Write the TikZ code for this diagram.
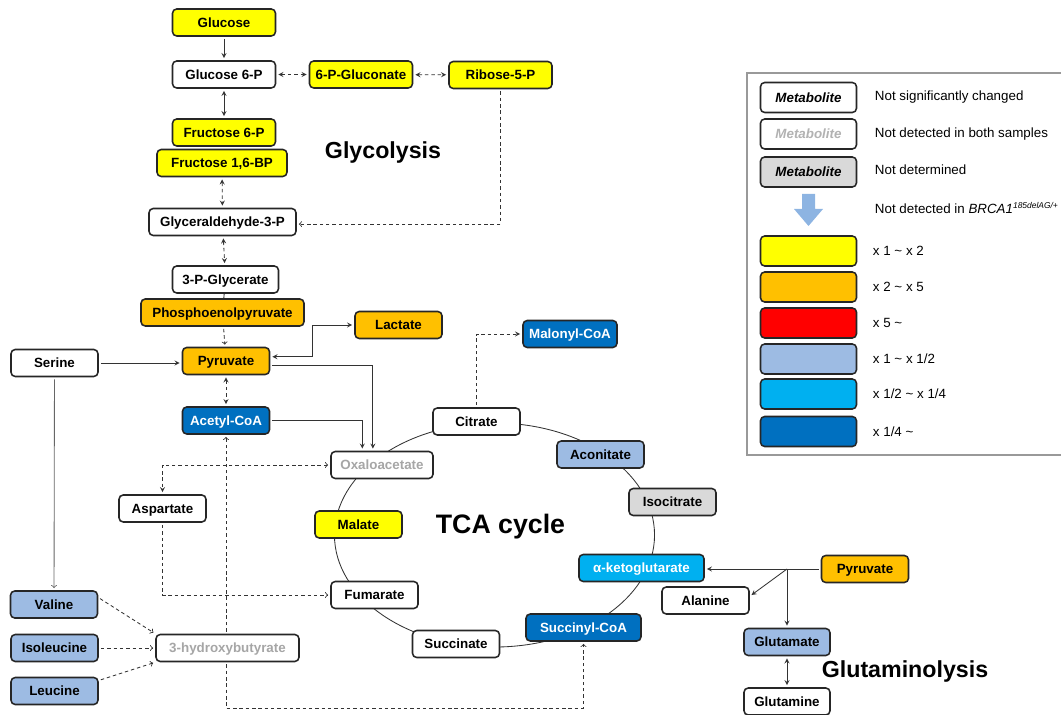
\documentclass[tikz,border=0pt]{standalone}
\usepackage{fontspec}
\setmainfont{Liberation Sans}
\definecolor{cyel}{RGB}{255,255,0}
\definecolor{corg}{RGB}{255,192,0}
\definecolor{cred}{RGB}{255,0,0}
\definecolor{clbl}{RGB}{157,187,227}
\definecolor{ccyn}{RGB}{0,176,240}
\definecolor{cdbl}{RGB}{0,112,192}
\definecolor{cgry}{RGB}{217,217,217}
\definecolor{ctxg}{RGB}{166,166,166}
\definecolor{carr}{RGB}{141,180,226}

\begin{document}
\begin{tikzpicture}[x=0.025cm,y=-0.025cm,>=stealth,
 met/.style={draw=black!85,line width=1.1pt,rounded corners=3pt,fill=white,minimum height=0.675cm,inner sep=0pt,text height=6.9pt,text depth=0pt,font=\bfseries\fontsize{9.5}{11}\selectfont},
 wd/.style={minimum width=#1*0.025cm},
 yel/.style={met,fill=cyel},
 org/.style={met,fill=corg},
 lbl/.style={met,fill=clbl},
 dbl/.style={met,fill=cdbl,text=white},
 nd/.style={met,text=ctxg},
 sol/.style={line width=0.6pt,draw=black!80,shorten >=1.5pt,shorten <=1.5pt},
 dsh/.style={sol,dash pattern=on 2.5pt off 2pt},
 ttl/.style={font=\bfseries\fontsize{16.5}{18}\selectfont},
 key/.style={met,minimum width=2.4cm,minimum height=0.75cm},
 ktx/.style={anchor=west,font=\fontsize{9.5}{11}\selectfont}]
 \useasboundingbox (0,0) rectangle (1061,715); %全体の大きさ
 \draw[line width=0.6pt,black!80] (494.5,535) ellipse [x radius=4cm,y radius=2.8cm]; %TCA回路
 % 解糖系
 \node[yel,wd=103] (gl) at (224,22.5) {Glucose};
 \node[met,wd=103] (g6p) at (224,74.5) {Glucose 6-P};
 \node[yel,wd=103] (pgl) at (361,74.5) {6-P-Gluconate};
 \node[yel,wd=103] (r5p) at (500.5,75) {Ribose-5-P};
 \node[yel,wd=103] (f6p) at (224,132.5) {Fructose 6-P};
 \node[yel,wd=130] (fbp) at (222,163) {Fructose 1,6-BP};
 \node[met,wd=147] (gap) at (222.5,222) {Glyceraldehyde-3-P};
 \node[met,wd=106] (pg3) at (225.5,279.5) {3-P-Glycerate};
 \node[org,wd=163] (pep) at (222.5,312.5) {Phosphoenolpyruvate};
 \node[org,wd=87] (lac) at (398.5,325) {Lactate};
 \node[org,wd=87] (pyr) at (226,361) {Pyruvate};
 \node[met,wd=87] (ser) at (54.5,363) {Serine};
 \node[dbl,wd=87] (aca) at (226,420.5) {Acetyl-CoA};
 \node[met,wd=87] (asp) at (162.5,508.5) {Aspartate};
 % アミノ酸
 \node[lbl,wd=87] (val) at (54,604.5) {Valine};
 \node[lbl,wd=87] (ile) at (54.5,648) {Isoleucine};
 \node[lbl,wd=87] (leu) at (54.5,691) {Leucine};
 \node[nd,wd=143] (hb) at (227.5,648) {3-hydroxybutyrate};
 % TCA回路
 \node[nd,wd=102] (oaa) at (382,465) {Oxaloacetate};
 \node[met,wd=87] (cit) at (476.5,421.5) {Citrate};
 \node[dbl,wd=94] (mcoa) at (570,334) {Malonyl-CoA};
 \node[lbl,wd=87] (aco) at (600.5,454.5) {Aconitate};
 \node[met,fill=cgry,wd=87] (ici) at (672.5,502) {Isocitrate};
 \node[met,fill=ccyn,text=white,wd=125] (akg) at (641.5,568) {α-ketoglutarate};
 \node[dbl,wd=115] (sca) at (583.5,627.5) {Succinyl-CoA};
 \node[met,wd=87] (suc) at (456,644) {Succinate};
 \node[met,wd=87] (fum) at (374.5,595) {Fumarate};
 \node[yel,wd=87] (mal) at (358.5,524.5) {Malate};
 % グルタミン分解
 \node[org,wd=87] (pyr2) at (865,569) {Pyruvate};
 \node[met,wd=87] (ala) at (705.5,600.5) {Alanine};
 \node[lbl,wd=86] (glu) at (787,642) {Glutamate};
 \node[met,wd=86] (gln) at (787,701.5) {Glutamine};
 \coordinate (jn) at (787,569); %分岐点
 \coordinate (bot) at (583.5,708); %下の折れ点
 % 見出し
 \node[ttl] (tgly) at (383,153) {Glycolysis};
 \node[font=\bfseries\fontsize{19}{21}\selectfont] (ttca) at (500.5,527) {TCA cycle};
 \node[ttl] (tgln) at (905,672) {Glutaminolysis};
 % 矢印
 \draw[sol,->] (gl) -- (g6p);
 \draw[dsh,<->] (g6p) -- (pgl);
 \draw[dsh,<->] (pgl) -- (r5p);
 \draw[sol,<->] (g6p) -- (f6p);
 \draw[dsh,<->] (fbp) -- (gap);
 \draw[dsh,<->] (gap) -- (pg3);
 \draw[dsh,-to] (r5p.south) |- ([yshift=-1.5pt]gap.east);
 \draw[sol,shorten >=0pt,shorten <=0pt] (pg3) -- (pep);
 \draw[dsh,-to] (pep) -- (pyr);
 \draw[sol,->] (ser.east) -- (ser.east -| pyr.west);
 \draw[sol,<->] ([yshift=3pt]pyr.east) -| (312,325) -- (lac.west);
 \draw[sol,->] ([yshift=-3.5pt]pyr.east) -| ([xshift=-6.5pt]oaa.north);
 \draw[sol,->] (aca.east) -| ([xshift=-14pt]oaa.north);
 \draw[dsh,<->] (pyr) -- (aca);
 \draw[sol,black!60,-to] (ser) -- (val);
 \draw[dsh,to-stealth] (oaa.west) -| (asp.north);
 \draw[dsh,-to] (asp.south) |- (fum.west);
 \draw[dsh,-to] (hb.north -| aca) -- (aca.south);
 \draw[dsh,-to] (hb.south -| aca) |- (bot) -- (sca.south);
 \draw[dsh,-to] ([yshift=5pt]val.east) -- (hb.north west);
 \draw[dsh,-to] (ile) -- (hb);
 \draw[dsh,-to] ([yshift=7.5pt]leu.east) -- (hb.south west);
 \draw[dsh,->] (cit.north) |- (mcoa.west);
 \draw[sol,shorten >=0pt] (pyr2.west) -- (jn);
 \draw[sol,->,shorten <=0pt] (jn) -- (akg.east |- jn);
 \draw[sol,->,shorten <=0pt] (jn) -- ([yshift=3pt]ala.east);
 \draw[sol,->,shorten <=0pt] (jn) -- (glu.north);
 \draw[sol,<->] (glu) -- (gln);
 % 凡例
 \draw[black!40,line width=0.8pt] (1061,73) -| (747,455) -- (1061,455); %枠
 \node[key,font=\bfseries\itshape\fontsize{9.5}{11}\selectfont] (k1) at (808.5,97.5) {Metabolite};
 \node[key,text=black!30,font=\bfseries\itshape\fontsize{9.5}{11}\selectfont] (k2) at (808.5,134) {Metabolite};
 \node[key,fill=cgry,font=\bfseries\itshape\fontsize{9.5}{11}\selectfont] (k3) at (808.5,172) {Metabolite};
 \fill[carr] (802,194) -- (815,194) -- (815,209) -- (823,209) -- (808.5,226) -- (794,209) -- (802,209) -- cycle; %青い矢印
 \node[key,fill=cyel] (c1) at (808.5,251) {};
 \node[key,fill=corg] (c2) at (808.5,287) {};
 \node[key,fill=cred] (c3) at (808.5,323) {};
 \node[key,fill=clbl] (c4) at (808.5,359) {};
 \node[key,fill=ccyn] (c5) at (808.5,394) {};
 \node[key,fill=cdbl] (c6) at (808.5,431.5) {};
 \node[ktx] (t1) at (870,97) {Not significantly changed};
 \node[ktx] (t2) at (870,134) {Not detected in both samples};
 \node[ktx] (t3) at (870,170) {Not determined};
 \node[ktx] (t4) at (870,208) {Not detected in \textit{BRCA1}\raisebox{0.8ex}{\fontsize{6}{7}\selectfont\textit{185delAG/+}}};
 \node[ktx] (t5) at (868,251) {x 1 \textasciitilde{} x 2};
 \node[ktx] (t6) at (868,287) {x 2 \textasciitilde{} x 5};
 \node[ktx] (t7) at (868,323) {x 5 \textasciitilde};
 \node[ktx] (t8) at (868,359) {x 1 \textasciitilde{} x 1/2};
 \node[ktx] (t9) at (868,394) {x 1/2 \textasciitilde{} x 1/4};
 \node[ktx] (t10) at (868,431.5) {x 1/4 \textasciitilde};
\end{tikzpicture}
\end{document}
